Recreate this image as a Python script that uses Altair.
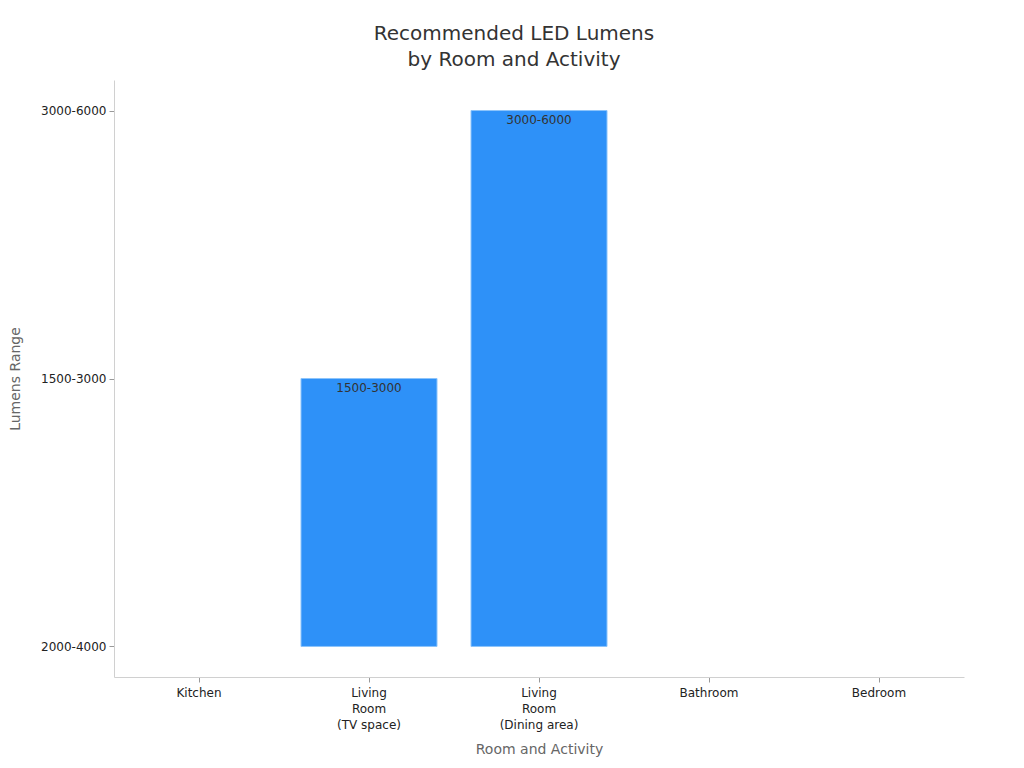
import altair as alt
import pandas as pd

rooms = ["Kitchen", "Living Room (TV space)", "Living Room (Dining area)", "Bathroom", "Bedroom"]
lumens = [None, "1500-3000", "3000-6000", None, None]
y_levels = ["3000-6000", "1500-3000", "2000-4000"]  # top to bottom
baseline_level = "2000-4000"

df = pd.DataFrame({"room": rooms, "lumens": lumens})
bars_df = df.dropna()

FONT = "DejaVu Sans"

label_expr = (
    "datum.label == 'Living Room (TV space)' ? ['Living','Room','(TV space)'] : "
    "datum.label == 'Living Room (Dining area)' ? ['Living','Room','(Dining area)'] : datum.label"
)

xscale = alt.Scale(domain=rooms, paddingInner=0.2, paddingOuter=0.1)
yscale = alt.Scale(domain=y_levels, type="point", padding=0.114)

x = alt.X(
    "room:N",
    sort=rooms,
    scale=xscale,
    axis=alt.Axis(
        title="Room and Activity",
        labelAngle=0,
        labelExpr=label_expr,
        labelFontSize=12,
        labelColor="#222222",
        titleFontSize=14,
        titleColor="#666666",
        titleFontWeight="normal",
        titlePadding=12,
        domainColor="#d0d0d0",
        tickColor="#999999",
        labelPadding=5,
        labelLineHeight=16,
    ),
)
y = alt.Y(
    "lumens:O",
    scale=yscale,
    axis=alt.Axis(
        title="Lumens Range",
        labelFontSize=12,
        labelColor="#222222",
        titleFontSize=14,
        titleColor="#666666",
        titleFontWeight="normal",
        titlePadding=18,
        domainColor="#d0d0d0",
        tickColor="#999999",
        labelPadding=3,
        grid=False,
    ),
)

bars = alt.Chart(bars_df).mark_bar(
    color="#2e91f8", stroke="#8cc4fb", strokeWidth=1
).encode(
    x=x,
    y=y,
    y2=alt.datum(baseline_level),
)

texts = alt.Chart(bars_df).mark_text(
    baseline="top", dy=4, fontSize=12, color="#333333", font=FONT
).encode(
    x=alt.X("room:N", sort=rooms, scale=xscale),
    y=alt.Y("lumens:O", scale=yscale),
    text="lumens:N",
)

chart = (
    alt.layer(bars, texts)
    .properties(
        width=850,
        height=597,
        padding={"top": 16, "left": 0, "right": 5, "bottom": 5},
        title=alt.Title(
            ["Recommended LED Lumens", "by Room and Activity"],
            fontSize=20,
            fontWeight="normal",
            color="#333333",
            lineHeight=26,
            offset=10,
            anchor="middle",
            dx=-25,
        ),
    )
    .configure(font=FONT)
    .configure_view(stroke=None)
)

chart.save("out.html", embed_options={"renderer": "svg", "actions": False})
